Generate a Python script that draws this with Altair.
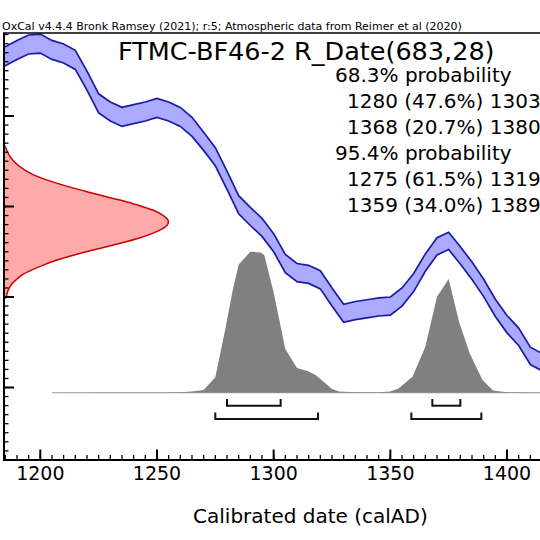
import altair as alt
import pandas as pd
import numpy as np

# IntCal20 atmospheric curve: calendar year (AD), 14C age (BP), 1-sigma
cal_years = [1180, 1185, 1190, 1195, 1200, 1205, 1210, 1215, 1220, 1225,
             1230, 1235, 1240, 1245, 1250, 1255, 1260, 1265, 1270, 1275,
             1280, 1285, 1290, 1295, 1300, 1305, 1310, 1315, 1320, 1325,
             1330, 1335, 1340, 1345, 1350, 1355, 1360, 1365, 1370, 1375,
             1380, 1385, 1390, 1395, 1400, 1405, 1410, 1415]
curve_bp = [862, 866, 873, 879, 880, 873, 869, 862, 839, 814,
            805, 799, 802, 805, 809, 805, 799, 788, 772, 755,
            729, 702, 689, 677, 660, 637, 627, 625, 619, 600,
            582, 585, 587, 589, 590, 600, 616, 638, 656, 662,
            646, 629, 610, 588, 570, 556, 535, 528]
curve_sigma = [10.5, 10.5, 10.5, 10.5, 10.5, 10.5, 10.5, 10.5, 10.5, 10.5,
               10.5, 10.5, 10.5, 10.5, 10.5, 10.5, 10.5, 10.5, 10.0, 10.0,
               10.0, 10.0, 10.0, 10.0, 10.0, 10.0, 10.0, 10.0, 10.0, 10.0,
               10.0, 10.0, 10.0, 10.0, 10.0, 10.0, 10.0, 9.6, 9.6, 9.6,
               9.6, 9.6, 9.6, 9.6, 9.6, 9.6, 9.6, 9.6]

# R_Date(683,28): measured radiocarbon age distribution (relative density)
rdate_bp = [598, 600, 605, 610, 615, 620, 625, 630, 635, 640, 645, 650, 655,
            660, 665, 670, 675, 680, 683, 685, 690, 695, 700, 705, 710, 715,
            720, 725, 730, 735, 740, 745, 750, 755, 760, 765, 768]
rdate_density = [0.0, 0.012, 0.02, 0.032, 0.05, 0.08, 0.115, 0.17, 0.235, 0.31,
                 0.40, 0.50, 0.61, 0.72, 0.82, 0.90, 0.96, 0.995, 1.0, 0.998,
                 0.97, 0.92, 0.84, 0.75, 0.64, 0.535, 0.43, 0.335, 0.25, 0.18,
                 0.13, 0.09, 0.06, 0.037, 0.022, 0.01, 0.0]

# Calibrated date distribution (relative probability)
post_years = [1205, 1230, 1250, 1260, 1265, 1270, 1275, 1279.5, 1282.5, 1285,
              1290, 1294.5, 1296, 1300, 1305, 1310, 1314.5, 1318, 1325, 1328,
              1335, 1345, 1350, 1353.5, 1359.5, 1365, 1370, 1375, 1379.5, 1384,
              1389.5, 1394, 1400, 1415]
post_prob = [0.0, 0.001, 0.002, 0.004, 0.008, 0.02, 0.11, 0.47, 0.73, 0.91,
             1.0, 0.995, 0.975, 0.71, 0.31, 0.175, 0.155, 0.125, 0.026, 0.008,
             0.004, 0.004, 0.008, 0.03, 0.113, 0.326, 0.68, 0.806, 0.50, 0.28,
             0.09, 0.016, 0.004, 0.001]

# Highest probability ranges: (from, percent, to)
ranges_68 = [(1280, 47.6, 1303), (1368, 20.7, 1380)]
ranges_95 = [(1275, 61.5, 1319), (1359, 34.0, 1389)]

header = "OxCal v4.4.4 Bronk Ramsey (2021); r:5; Atmospheric data from Reimer et al (2020)"
title = "FTMC-BF46-2 R_Date(683,28)"
x_title = "Calibrated date (calAD)"
year_labels = [1200, 1250, 1300, 1350, 1400]

W, H = 536, 427
FONT = "DejaVu Sans"
XS = alt.Scale(domain=[1184.44, 1414.14], nice=False, zero=False)
YS = alt.Scale(domain=[419.9, 891.7], nice=False, zero=False)
PS = alt.Scale(domain=[-0.477, 2.551], nice=False, zero=False)
DS = alt.Scale(domain=[0, 3.262], nice=False, zero=False)

curve = pd.DataFrame({"year": cal_years, "bp": curve_bp, "sd": curve_sigma})
rdate = pd.DataFrame({"bp": rdate_bp, "dens": rdate_density})
post = pd.DataFrame({"year": post_years, "p": post_prob})

xq = alt.X("year:Q", scale=XS, axis=None)

band = alt.Chart(curve).transform_calculate(
    hi="datum.bp + datum.sd", lo="datum.bp - datum.sd"
).mark_area(color="#aaaaff", clip=True).encode(
    x=xq, y=alt.Y("lo:Q", scale=YS, axis=None), y2="hi:Q")

edge_hi = alt.Chart(curve).transform_calculate(
    v="datum.bp + datum.sd"
).mark_line(color="#1a1aaa", strokeWidth=1.7, clip=True).encode(
    x=xq, y=alt.Y("v:Q", scale=YS, axis=None))

edge_lo = alt.Chart(curve).transform_calculate(
    v="datum.bp - datum.sd"
).mark_line(color="#1a1aaa", strokeWidth=1.7, clip=True).encode(
    x=xq, y=alt.Y("v:Q", scale=YS, axis=None))

red = alt.Chart(rdate).mark_area(
    orient="horizontal", interpolate="monotone",
    fill="#ffaaaa", stroke="#cc0000", strokeWidth=1.5
).encode(
    y=alt.Y("bp:Q", scale=YS, axis=None),
    x=alt.X("dens:Q", scale=DS, axis=None),
    x2=alt.datum(0))

gray = alt.Chart(post).mark_area(color="#808080", clip=True).encode(
    x=xq, y=alt.Y("p:Q", scale=PS, axis=None), y2=alt.datum(0))

gray_base = alt.Chart(pd.DataFrame({"year": [post_years[0], 1415], "p": [0, 0]})).mark_line(
    color="#9a9a9a", strokeWidth=1.2, clip=True
).encode(x=xq, y=alt.Y("p:Q", scale=PS, axis=None))

# range brackets below the distribution
def brackets(ranges, y_line, y_top):
    df = pd.DataFrame({"a": [r[0] for r in ranges], "b": [r[2] for r in ranges]})
    line = alt.Chart(df).mark_rule(color="#111", strokeWidth=2).encode(
        x=alt.X("a:Q", scale=XS, axis=None), x2="b:Q", y=alt.value(y_line))
    ends = alt.Chart(df).transform_fold(["a", "b"], as_=["k", "year"]).mark_rule(
        color="#111", strokeWidth=2
    ).encode(x=alt.X("year:Q", scale=XS, axis=None), y=alt.value(y_top), y2=alt.value(y_line + 1))
    return [line, ends]

br = brackets(ranges_68, 372.7, 366.0) + brackets(ranges_95, 386.0, 379.5)

# axes drawn as rules
one = pd.DataFrame({"k": [0]})
left_axis = alt.Chart(one).mark_rule(color="black", strokeWidth=2).encode(
    x=alt.value(0), y=alt.value(0), y2=alt.value(H))
bottom_axis = alt.Chart(one).mark_rule(color="black", strokeWidth=2).encode(
    x=alt.value(-1), x2=alt.value(W), y=alt.value(H))
top_line = alt.Chart(one).mark_rule(color="black", strokeWidth=1.5).encode(
    x=alt.value(-1), x2=alt.value(W), y=alt.value(0))

minor_years = pd.DataFrame({"year": np.arange(1185, 1415, 5)})
major_years = pd.DataFrame({"year": year_labels})
minor_bp = pd.DataFrame({"bp": np.arange(420, 892, 10)})
major_bp = pd.DataFrame({"bp": [500, 600, 700, 800]})

xt_minor = alt.Chart(minor_years).mark_rule(color="black", strokeWidth=1.3).encode(
    x=alt.X("year:Q", scale=XS, axis=None), y=alt.value(H), y2=alt.value(H - 5))
xt_major = alt.Chart(major_years).mark_rule(color="black", strokeWidth=2).encode(
    x=alt.X("year:Q", scale=XS, axis=None), y=alt.value(H), y2=alt.value(H - 10.5))
yt_minor = alt.Chart(minor_bp).mark_rule(color="black", strokeWidth=1.3).encode(
    y=alt.Y("bp:Q", scale=YS, axis=None), x=alt.value(0), x2=alt.value(4.5))
yt_major = alt.Chart(major_bp).mark_rule(color="black", strokeWidth=2).encode(
    y=alt.Y("bp:Q", scale=YS, axis=None), x=alt.value(0), x2=alt.value(10))

x_labels = alt.Chart(major_years).transform_calculate(t="'' + datum.year").mark_text(
    font=FONT, fontSize=19, baseline="alphabetic", align="center", color="black"
).encode(x=alt.X("year:Q", scale=XS, axis=None), y=alt.value(447.3), text="t:N")


def label(text, x, y, size, align="left"):
    return alt.Chart(pd.DataFrame({"t": [text]})).mark_text(
        font=FONT, fontSize=size, align=align, baseline="alphabetic", color="black"
    ).encode(x=alt.value(x), y=alt.value(y), text="t:N")


lines = [("68.3% probability", 331)]
lines += [(f"{a} ({p:.1f}%) {b}", 343) for a, p, b in ranges_68]
lines += [("95.4% probability", 331)]
lines += [(f"{a} ({p:.1f}%) {b}", 343) for a, p, b in ranges_95]
texts = [label(t, x, 48.7 + 26 * i, 20) for i, (t, x) in enumerate(lines)]
texts += [label(header, -2, -3.5, 11), label(title, 114, 26.5, 25.5),
          label(x_title, 306.4, 490, 20, align="center")]

chart = alt.layer(
    band, edge_hi, edge_lo, gray_base, gray, red, *br,
    xt_minor, xt_major, yt_minor, yt_major,
    left_axis, bottom_axis, top_line, x_labels, *texts
).resolve_scale(x="independent", y="independent").properties(
    width=W, height=H,
    padding={"left": 4, "top": 33, "right": 0, "bottom": 80},
    autosize=alt.AutoSizeParams(type="none"),
    background="white",
).configure_view(stroke=None)

chart.save("out.html", embed_options={"renderer": "svg", "actions": False})
